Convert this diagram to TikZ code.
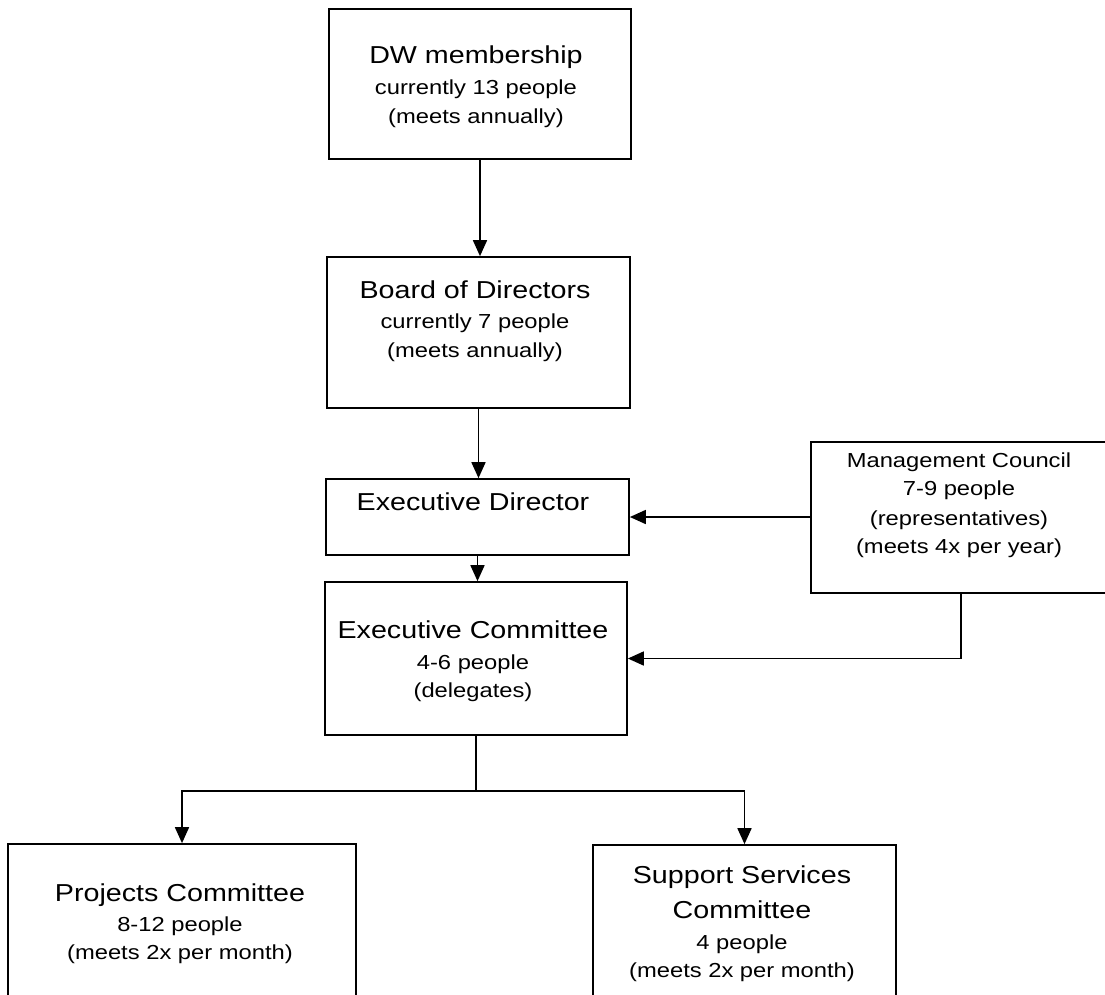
\documentclass[tikz,border=0pt]{standalone}
\usepackage{fontspec}
\setmainfont[FakeStretch=1.17]{Liberation Sans}
\usetikzlibrary{arrows.meta,calc}
\tikzset{
  box/.style={draw, line width=1.7pt, rectangle, inner sep=0pt},
  arr/.style={line width=1.7pt, -{Triangle[length=16pt,width=14pt]}},
  ln/.style={line width=1.7pt},
  ttl/.style={anchor=base, inner sep=0pt, font=\fontsize{24.5}{28}\selectfont},
  sub/.style={anchor=base, inner sep=0pt, font=\fontsize{20.3}{24}\selectfont},
}
\begin{document}
\begin{tikzpicture}[x=1pt,y=-1pt]
\useasboundingbox (0,0) rectangle (1105,994);
\clip (0,0) rectangle (1105,994);
\fill[white] (0,0) rectangle (1105,994);
% boxes
\node[box, minimum width=302pt, minimum height=150pt] (dw)   at (480,84) {};
\node[box, minimum width=303pt, minimum height=151pt] (bod)  at (478.5,332.5) {};
\node[box, minimum width=303pt, minimum height=76pt]  (ed)   at (477.5,517) {};
\node[box, minimum width=302pt, minimum height=153pt] (ec)   at (476,658.5) {};
\node[box, minimum width=300pt, minimum height=151pt] (mc)   at (961,517.5) {};
\node[box, minimum width=348pt, minimum height=206pt] (proj) at (182,947) {};
\node[box, minimum width=303pt, minimum height=206pt] (ssc)  at (744.5,948) {};
% texts
\node[ttl] (dw1) at (476,63) {DW membership};
\node[sub] (dw2) at (476,94) {currently 13 people};
\node[sub] (dw3) at (476,123) {(meets annually)};
\node[ttl] (bo1) at (475,298) {Board of Directors};
\node[sub] (bo2) at (475,328) {currently 7 people};
\node[sub] (bo3) at (475,357) {(meets annually)};
\node[ttl] (ed1) at (473,510) {Executive Director};
\node[ttl] (ec1) at (473,638) {Executive Committee};
\node[sub] (ec2) at (473,669) {4-6 people};
\node[sub] (ec3) at (473,697) {(delegates)};
\node[sub] (mc1) at (959,467) {Management Council};
\node[sub] (mc2) at (959,495) {7-9 people};
\node[sub] (mc3) at (959,525) {(representatives)};
\node[sub] (mc4) at (959,553) {(meets 4x per year)};
\node[ttl] (pc1) at (180,901) {Projects Committee};
\node[sub] (pc2) at (180,931) {8-12 people};
\node[sub] (pc3) at (180,959) {(meets 2x per month)};
\node[ttl] (ss1) at (742,883) {Support Services};
\node[ttl] (ss2) at (742,918) {Committee};
\node[sub] (ss3) at (742,949) {4 people};
\node[sub] (ss4) at (742,977) {(meets 2x per month)};
% connectors
\draw[arr] (dw.south) -- (dw.south |- bod.north);
\draw[arr] (bod.south) -- (bod.south |- ed.north);
\draw[arr] (ed.south) -- (ed.south |- ec.north);
\draw[arr] (mc.west |- ed.east) -- (ed.east);
\draw[arr] (mc.south) |- (ec.east);
\coordinate (split) at ($(ec.south)+(0,55)$);
\draw[ln] (ec.south) -- (split);
\draw[arr] (split) -| (proj.north);
\draw[arr] (split) -| (ssc.north);
\end{tikzpicture}
\end{document}
